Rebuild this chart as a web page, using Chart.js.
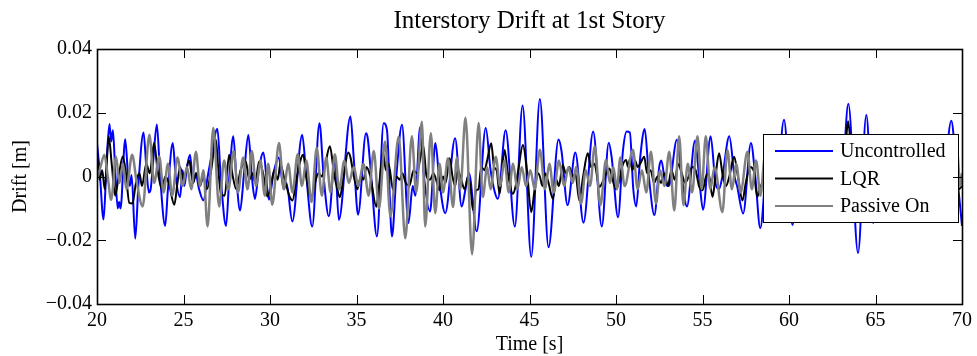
<!DOCTYPE html>
<html><head><meta charset="utf-8">
<script src="https://cdn.jsdelivr.net/npm/chart.js@4/dist/chart.umd.min.js"></script>
<style>html,body{margin:0;padding:0;background:#fff;}#wrap{width:977px;height:356px;}</style>
</head><body><div id="wrap"><canvas id="c" width="977" height="356"></canvas></div>
<script>
const chartTitle = 'Interstory Drift at 1st Story';
const xLabel = 'Time [s]';
const yLabel = 'Drift [m]';
const seriesNames = ['Uncontrolled', 'LQR', 'Passive On'];
const seriesColors = ['#0000ff', '#000000', '#808080'];
const xTicks = [20, 25, 30, 35, 40, 45, 50, 55, 60, 65, 70];
const yTicks = [-0.04, -0.02, 0, 0.02, 0.04];

const uncTime = [20.00,20.15,20.38,20.55,20.72,20.82,20.92,21.05,21.20,21.28,21.36,21.63,21.80,21.90,22.00,22.21,22.40,22.69,22.85,23.00,23.10,23.25,23.46,23.65,23.94,24.10,24.38,24.55,24.80,24.95,25.05,25.20,25.38,25.55,25.70,25.90,26.15,26.40,26.60,26.96,27.15,27.46,27.65,27.88,28.05,28.27,28.50,28.75,28.95,29.13,29.35,29.62,29.94,30.20,30.50,30.80,30.95,31.29,31.86,32.10,32.44,32.86,33.10,33.40,33.75,33.98,34.65,34.85,35.09,35.55,35.65,35.85,36.18,36.57,36.76,37.05,37.30,37.63,38.00,38.25,38.40,38.68,38.90,39.25,39.56,39.80,40.13,40.70,41.08,41.30,41.50,41.95,42.47,42.75,43.00,43.17,43.62,44.15,44.60,45.10,45.60,46.10,46.68,46.85,47.20,47.65,48.12,48.68,49.18,49.58,49.75,50.12,50.40,50.62,50.80,51.00,51.17,51.40,51.66,51.90,52.22,52.50,52.62,52.85,53.05,53.52,53.80,54.10,54.57,54.80,55.03,55.47,55.75,55.95,56.15,56.55,56.85,57.00,57.35,57.80,58.05,58.34,58.80,59.20,59.71,60.20,60.70,61.20,61.70,62.20,62.70,63.00,63.43,63.99,64.47,64.87,65.30,65.80,66.30,66.80,67.30,67.80,68.30,68.80,69.38,69.65,70.00];
const uncDrift = [0.0105,0.0020,-0.0135,0.0040,0.0165,0.0110,0.0145,0.0020,-0.0100,-0.0080,-0.0100,0.0117,0.0000,-0.0030,0.0005,-0.0195,-0.0020,0.0138,0.0030,-0.0050,-0.0040,0.0050,0.0163,0.0000,-0.0155,-0.0040,0.0105,0.0000,-0.0065,0.0020,-0.0030,0.0030,0.0068,-0.0020,0.0010,-0.0040,-0.0075,0.0000,0.0060,0.0150,0.0000,-0.0155,0.0000,0.0126,0.0000,-0.0107,0.0010,0.0130,0.0000,-0.0070,0.0020,0.0075,-0.0073,0.0010,0.0060,-0.0040,-0.0020,-0.0141,0.0131,0.0000,-0.0157,0.0167,0.0000,-0.0125,0.0052,-0.0136,0.0188,0.0050,-0.0120,0.0136,0.0120,0.0000,-0.0188,0.0167,0.0146,-0.0188,0.0000,0.0162,-0.0146,-0.0030,-0.0060,0.0155,0.0000,-0.0110,0.0105,-0.0020,-0.0115,0.0120,-0.0094,-0.0040,0.0010,-0.0172,0.0152,0.0020,-0.0050,-0.0070,0.0145,-0.0157,0.0223,-0.0252,0.0243,-0.0222,0.0116,0.0080,-0.0090,0.0075,-0.0145,0.0141,-0.0157,0.0106,0.0060,-0.0128,0.0080,0.0141,0.0138,-0.0040,-0.0094,0.0060,0.0149,0.0000,-0.0121,0.0030,0.0050,-0.0020,-0.0030,0.0115,0.0000,-0.0094,0.0113,0.0000,-0.0104,0.0126,-0.0020,-0.0040,0.0000,0.0126,0.0000,-0.0030,-0.0116,0.0105,0.0000,-0.0162,0.0080,-0.0100,0.0178,-0.0152,0.0100,-0.0080,0.0110,-0.0120,0.0090,-0.0060,0.0228,-0.0240,0.0193,-0.0146,0.0100,-0.0110,0.0120,-0.0100,0.0080,-0.0120,0.0110,-0.0090,0.0175,0.0040,-0.0155];

const lqrTime = [20.00,20.15,20.30,20.45,20.68,20.85,21.05,21.25,21.49,21.65,21.87,22.05,22.25,22.45,22.60,22.85,23.05,23.30,23.50,23.75,23.95,24.15,24.47,24.65,24.80,25.00,25.33,25.55,25.75,25.95,26.15,26.35,26.60,26.87,27.00,27.16,27.38,27.64,27.85,28.05,28.30,28.60,28.80,29.00,29.15,29.37,29.60,29.85,30.05,30.25,30.45,30.60,30.80,31.00,31.15,31.30,31.55,31.92,32.10,32.25,32.40,32.60,32.80,33.00,33.20,33.46,33.70,33.85,34.04,34.25,34.52,34.65,34.85,35.05,35.25,35.40,35.58,35.80,36.15,36.30,36.54,36.70,36.85,37.12,37.30,37.50,37.65,37.85,38.05,38.30,38.50,38.85,39.05,39.25,39.45,39.60,39.80,40.00,40.15,40.38,40.55,40.70,40.85,41.05,41.25,41.45,41.60,41.73,41.92,42.05,42.21,42.40,42.55,42.79,42.95,43.10,43.27,43.56,43.75,44.04,44.20,44.35,44.62,44.85,45.10,45.30,45.50,45.60,45.75,45.90,46.10,46.35,46.55,46.70,46.92,47.10,47.30,47.50,47.65,47.88,48.10,48.37,48.55,48.75,49.04,49.20,49.35,49.62,49.80,50.00,50.15,50.35,50.58,50.70,50.80,50.95,51.10,51.25,51.40,51.63,51.80,52.00,52.20,52.40,52.60,52.80,53.00,53.20,53.40,53.60,53.80,54.00,54.20,54.40,54.60,54.80,55.00,55.20,55.35,55.58,55.75,55.96,56.15,56.35,56.55,56.83,57.05,57.31,57.50,57.75,57.95,58.17,58.30,58.45,58.70,59.00,59.30,59.70,60.00,60.20,60.50,60.80,61.10,61.40,61.70,62.00,62.30,62.60,62.90,63.10,63.42,63.65,63.95,64.20,64.47,64.80,65.10,65.40,65.70,66.00,66.30,66.60,66.90,67.20,67.50,67.80,68.10,68.40,68.70,69.00,69.35,69.60,69.80,70.00];
const lqrDrift = [0.0070,-0.0010,0.0020,-0.0040,0.0125,0.0040,-0.0060,0.0000,0.0063,0.0020,-0.0083,-0.0085,-0.0020,0.0010,-0.0030,0.0040,0.0010,0.0105,0.0020,-0.0040,0.0000,-0.0020,-0.0089,-0.0020,0.0030,-0.0010,0.0050,-0.0020,0.0010,-0.0030,0.0000,-0.0040,0.0020,0.0115,0.0030,-0.0052,-0.0060,0.0068,0.0000,-0.0040,0.0020,0.0047,-0.0010,0.0010,-0.0020,0.0047,0.0010,-0.0063,-0.0030,0.0020,-0.0010,0.0040,0.0000,-0.0040,-0.0065,-0.0075,0.0000,0.0068,0.0000,-0.0050,-0.0065,-0.0020,0.0010,0.0000,0.0040,0.0095,0.0010,-0.0030,-0.0065,0.0000,0.0075,0.0060,0.0000,-0.0040,0.0000,-0.0010,0.0030,0.0000,-0.0095,-0.0030,0.0073,0.0020,0.0040,-0.0043,0.0000,-0.0010,0.0010,-0.0020,-0.0030,0.0020,0.0010,0.0099,0.0000,-0.0010,0.0010,-0.0010,-0.0043,0.0000,-0.0020,0.0057,0.0000,-0.0030,0.0020,-0.0010,-0.0040,0.0000,-0.0040,-0.0105,-0.0043,-0.0040,0.0030,0.0020,0.0050,0.0104,0.0030,0.0020,-0.0054,0.0083,0.0010,-0.0054,-0.0030,0.0020,0.0099,0.0020,-0.0112,-0.0040,0.0010,0.0000,-0.0030,0.0010,-0.0020,-0.0070,-0.0010,-0.0030,0.0036,0.0010,0.0030,0.0000,0.0010,-0.0075,0.0000,0.0073,0.0030,0.0040,-0.0033,-0.0020,0.0000,0.0025,-0.0010,-0.0040,-0.0020,0.0030,0.0052,0.0030,0.0055,0.0020,0.0050,0.0030,0.0040,0.0062,0.0010,0.0020,-0.0020,0.0000,-0.0020,0.0010,-0.0030,0.0020,-0.0010,0.0040,0.0010,-0.0020,0.0000,0.0030,0.0020,-0.0030,-0.0043,0.0000,0.0010,-0.0064,0.0000,0.0073,0.0010,-0.0030,0.0000,0.0062,0.0000,-0.0075,-0.0020,0.0030,0.0020,-0.0064,-0.0040,-0.0020,0.0030,-0.0040,0.0020,0.0090,-0.0030,-0.0070,0.0020,0.0050,-0.0020,0.0040,0.0060,-0.0030,-0.0060,0.0020,0.0040,-0.0020,0.0173,0.0020,-0.0110,0.0000,0.0090,-0.0060,0.0020,0.0040,-0.0040,0.0020,0.0050,-0.0030,-0.0050,0.0020,0.0040,-0.0040,-0.0020,0.0050,0.0010,-0.0040,0.0080,0.0020,-0.0040,-0.0030];

const pasTime = [20.00,20.20,20.43,20.62,20.82,21.10,21.30,21.50,21.70,22.03,22.30,22.64,23.03,23.30,23.60,23.85,24.10,24.35,24.65,24.95,25.20,25.45,25.72,25.95,26.15,26.39,26.72,27.06,27.35,27.60,27.90,28.15,28.45,28.70,28.95,29.20,29.45,29.70,29.90,30.13,30.52,30.80,31.05,31.30,31.60,31.85,32.10,32.40,32.70,33.00,33.25,33.50,33.75,34.00,34.30,34.55,34.85,35.10,35.40,35.70,36.00,36.30,36.65,36.96,37.44,37.82,38.20,38.45,38.78,38.97,39.30,39.55,39.80,40.00,40.29,40.58,40.80,41.00,41.30,41.68,42.06,42.30,42.55,42.75,43.05,43.30,43.55,43.80,44.05,44.30,44.55,44.80,45.05,45.30,45.60,45.90,46.15,46.40,46.70,47.00,47.25,47.50,47.70,47.98,48.25,48.50,48.77,49.10,49.42,49.65,49.85,50.05,50.25,50.50,50.98,51.25,51.50,51.75,52.02,52.31,52.55,52.80,53.08,53.37,53.65,53.90,54.15,54.40,54.71,54.95,55.19,55.45,55.70,56.15,56.44,56.70,56.95,57.20,57.60,57.85,58.10,58.35,58.60,58.90,59.20,59.50,59.80,60.10,60.40,60.70,61.00,61.30,61.60,61.90,62.20,62.50,62.80,63.10,63.40,63.70,64.00,64.30,64.60,64.90,65.20,65.50,65.80,66.10,66.40,66.70,67.00,67.30,67.60,67.90,68.20,68.50,68.80,69.10,69.45,69.70,69.90,70.00];
const pasDrift = [-0.0010,0.0030,0.0068,0.0000,-0.0073,0.0063,-0.0020,0.0040,-0.0040,0.0068,-0.0020,-0.0094,0.0131,-0.0020,0.0063,-0.0050,0.0040,-0.0060,0.0060,-0.0030,0.0030,-0.0040,0.0078,-0.0030,0.0020,-0.0157,0.0152,-0.0094,0.0050,-0.0040,0.0080,-0.0050,0.0060,-0.0040,0.0080,-0.0030,0.0050,-0.0060,0.0040,-0.0089,0.0105,-0.0040,0.0040,-0.0050,0.0070,-0.0030,0.0050,-0.0080,0.0090,-0.0060,0.0060,-0.0050,0.0070,-0.0040,0.0050,-0.0020,0.0030,-0.0030,0.0040,-0.0060,0.0080,-0.0100,0.0110,-0.0125,0.0125,-0.0194,0.0126,-0.0050,0.0172,-0.0157,0.0136,-0.0115,0.0040,-0.0050,0.0057,-0.0096,0.0060,-0.0040,0.0184,-0.0244,0.0168,-0.0064,0.0030,-0.0040,0.0062,-0.0030,0.0050,-0.0050,0.0040,-0.0040,0.0030,-0.0030,0.0020,-0.0040,0.0084,-0.0040,0.0040,-0.0050,0.0050,-0.0030,0.0030,-0.0020,0.0030,-0.0085,0.0020,-0.0030,0.0094,-0.0090,0.0052,-0.0020,0.0030,-0.0040,0.0060,-0.0030,0.0084,-0.0040,0.0020,-0.0050,0.0078,-0.0085,0.0020,-0.0030,0.0078,-0.0107,0.0126,-0.0090,0.0040,-0.0050,0.0126,-0.0040,0.0126,-0.0040,0.0030,-0.0112,0.0083,-0.0040,0.0040,-0.0050,0.0078,-0.0040,0.0050,-0.0060,0.0060,-0.0050,0.0070,-0.0060,0.0080,-0.0070,0.0060,-0.0050,0.0070,-0.0060,0.0050,-0.0070,0.0060,-0.0050,0.0070,-0.0060,0.0100,-0.0080,0.0060,-0.0070,0.0080,-0.0060,0.0050,-0.0060,0.0070,-0.0050,0.0060,-0.0070,0.0050,-0.0060,0.0070,-0.0050,0.0060,-0.0060,0.0070,-0.0050,-0.0040,0.0090,-0.0030,0.0010];

const FONT = '"Liberation Serif", "Times New Roman", serif';
const FS = 20;
const TITLE_FS = 25;

function pts(t, v) { return t.map((x, i) => ({ x: x, y: v[i] })); }

function fmtY(v) {
  if (Math.abs(v) < 1e-9) return '0';
  return (v < 0 ? '\u2212' : '') + Math.abs(v).toFixed(2);
}

const decor = {
  id: 'decor',
  afterDatasetsDraw(chart) {
    const { ctx, chartArea: a, scales } = chart;
    const x = scales.x, y = scales.y;
    ctx.save();
    const lx0 = 763.5, ly0 = 134.5, lx1 = 958.5, ly1 = 222.5;
    ctx.fillStyle = '#fff';
    ctx.fillRect(lx0, ly0, lx1 - lx0, ly1 - ly0);
    ctx.strokeStyle = '#000';
    ctx.lineWidth = 1;
    ctx.strokeRect(lx0, ly0, lx1 - lx0, ly1 - ly0);
    const rowY = [151, 178.5, 206];
    ctx.font = FS + 'px ' + FONT;
    ctx.textBaseline = 'middle';
    ctx.textAlign = 'left';
    seriesNames.forEach((n, i) => {
      const ds = chart.data.datasets[i];
      ctx.strokeStyle = ds.borderColor;
      ctx.lineWidth = 2;
      ctx.beginPath();
      ctx.moveTo(775, rowY[i]);
      ctx.lineTo(833, rowY[i]);
      ctx.stroke();
      ctx.fillStyle = '#000';
      ctx.fillText(n, 840, rowY[i] + 1);
    });
    ctx.strokeStyle = '#000';
    ctx.lineWidth = 1;
    ctx.beginPath();
    const L = 9;
    xTicks.forEach(v => {
      const px = Math.round(x.getPixelForValue(v)) + 0.5;
      ctx.moveTo(px, a.bottom); ctx.lineTo(px, a.bottom - L);
      ctx.moveTo(px, a.top); ctx.lineTo(px, a.top + L);
    });
    yTicks.forEach(v => {
      const py = Math.round(y.getPixelForValue(v)) + 0.5;
      ctx.moveTo(a.left, py); ctx.lineTo(a.left + L, py);
      ctx.moveTo(a.right, py); ctx.lineTo(a.right - L, py);
    });
    ctx.stroke();
    ctx.lineWidth = 1.6;
    ctx.strokeRect(a.left + 0.5, a.top + 0.5, a.right - a.left, a.bottom - a.top);
    ctx.fillStyle = '#000';
    ctx.textAlign = 'center';
    ctx.textBaseline = 'middle';
    ctx.font = TITLE_FS + 'px ' + FONT;
    ctx.fillText(chartTitle, (a.left + a.right) / 2, 21);
    ctx.font = FS + 'px ' + FONT;
    ctx.fillText(xLabel, (a.left + a.right) / 2, 345);
    ctx.translate(21, (a.top + a.bottom) / 2);
    ctx.rotate(-Math.PI / 2);
    ctx.fillText(yLabel, 0, 0);
    ctx.restore();
  }
};

const cfg = {
  type: 'line',
  data: {
    datasets: [
      { label: seriesNames[0], data: pts(uncTime, uncDrift), borderColor: seriesColors[0], borderWidth: 2, order: 2 },
      { label: seriesNames[1], data: pts(lqrTime, lqrDrift), borderColor: seriesColors[1], borderWidth: 2, order: 1 },
      { label: seriesNames[2], data: pts(pasTime, pasDrift), borderColor: seriesColors[2], borderWidth: 2.5, order: 0 }
    ]
  },
  options: {
    responsive: false,
    animation: false,
    devicePixelRatio: 1,
    layout: { padding: { left: 0, top: 49, right: 13, bottom: 0 } },
    elements: { point: { radius: 0 }, line: { cubicInterpolationMode: 'monotone', fill: false } },
    plugins: { legend: { display: false }, title: { display: false }, tooltip: { enabled: false } },
    scales: {
      x: {
        type: 'linear', min: 20, max: 70,
        grid: { display: false, drawTicks: false },
        border: { display: false },
        afterBuildTicks: s => { s.ticks = xTicks.map(v => ({ value: v })); },
        afterFit: s => { s.height = 52; },
        ticks: { color: '#000', padding: 5, maxRotation: 0, font: { family: FONT, size: FS }, callback: v => String(v) }
      },
      y: {
        type: 'linear', min: -0.04, max: 0.04,
        grid: { display: false, drawTicks: false },
        border: { display: false },
        afterBuildTicks: s => { s.ticks = yTicks.map(v => ({ value: v })); },
        afterFit: s => { s.width = 97; },
        ticks: { color: '#000', padding: 5, font: { family: FONT, size: FS }, callback: v => fmtY(v) }
      }
    }
  },
  plugins: [decor]
};
new Chart(document.getElementById('c'), cfg);
</script>
</body></html>
